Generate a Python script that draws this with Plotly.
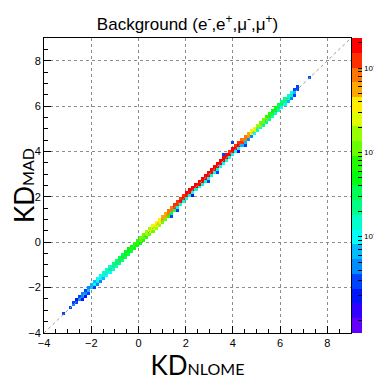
import colorsys
import numpy as np
import plotly.graph_objects as go

# histogram binning (ROOT-style TH2, 100 x 100 bins on [-4, 9])
kd_min, kd_max, n_bins = -4.0, 9.0, 100

# diagonal band, one entry per bin along KD_NLOME starting at bin 6
band_first_bin = 6
band_main = [3e-4, 0, 3e-4, 4.4e-4, 3e-4, 4.4e-4, 4.4e-4, 4.4e-4, 6.6e-4, 6.6e-4,
             1.0e-3, 1.0e-3, 1.0e-3, 1.5e-3, 1.5e-3, 2.2e-3, 2.2e-3, 3.3e-3, 3.3e-3, 4.9e-3,
             4.9e-3, 4.9e-3, 7.4e-3, 7.4e-3, 7.4e-3, 0.011, 0.011, 0.017, 0.025, 0.025,
             0.037, 0.037, 0.055, 0.055, 0.083, 0.083, 0.12, 0.12, 0.19,
             0.17, 0.19, 0.20, 0.19, 0.21, 0.20, 0.19, 0.20, 0.21, 0.20, 0.19, 0.20,
             0.19, 0.18, 0.19, 0.17, 0.18, 0.16,
             0.16, 0.12, 0.083, 0.055, 0.037, 0.025, 0.017, 0.017, 0.011, 0.011,
             7.4e-3, 7.4e-3, 4.9e-3, 3.3e-3, 3.3e-3, 2.2e-3, 1.5e-3, 1.5e-3, 6.6e-4, 3e-4,
             0, 0, 0, 3e-4]
band_upper = [0, 0, 0, 3e-4, 2e-4, 3e-4, 4.4e-4, 3e-4, 4.4e-4, 6.6e-4,
              6.6e-4, 1.0e-3, 1.0e-3, 1.5e-3, 1.5e-3, 1.5e-3, 2.2e-3, 2.2e-3, 3.3e-3, 3.3e-3,
              4.9e-3, 4.9e-3, 4.9e-3, 7.4e-3, 7.4e-3, 0.011, 0.011, 0.017, 0.017, 0.025,
              0.037, 0.037, 0.055, 0.055, 0.083, 0.083, 0.12, 0.12, 0.12,
              0.13, 0.16, 0.17, 0.16, 0.17, 0.18, 0.16, 0.17, 0.18, 0.17, 0.16, 0.17,
              0.16, 0.16, 0.17, 0.13, 0.16, 0.13,
              0.12, 0.083, 0.083, 0.055, 0.037, 0.025, 0.017, 0.011, 0.011, 7.4e-3,
              7.4e-3, 4.9e-3, 4.9e-3, 3.3e-3, 2.2e-3, 2.2e-3, 1.5e-3, 1.0e-3, 4.4e-4, 3e-4,
              0, 0, 0, 0]
band_lower = [0, 0, 0, 0, 0, 0, 2e-4, 2e-4, 3e-4, 0,
              3e-4, 4.4e-4, 4.4e-4, 6.6e-4, 1.0e-3, 1.0e-3, 1.5e-3, 1.5e-3, 2.2e-3, 2.2e-3,
              3.3e-3, 3.3e-3, 3.3e-3, 4.9e-3, 4.9e-3, 4.9e-3, 7.4e-3, 7.4e-3, 0.011, 0.011,
              0.017, 0.017, 0.011, 0.011, 7.4e-3, 3.3e-3, 2.2e-3, 1.5e-3, 1.5e-3,
              1.5e-3, 1.0e-3, 1.5e-3, 1.0e-3, 1.5e-3, 1.0e-3, 1.5e-3, 1.5e-3, 1.0e-3, 1.5e-3,
              1.0e-3, 1.5e-3, 1.0e-3, 1.0e-3, 1.5e-3, 1.0e-3, 1.0e-3, 1.0e-3,
              1.0e-3, 6.6e-4, 6.6e-4, 4.4e-4, 4.4e-4, 1.0e-3, 1.5e-3, 1.5e-3, 2.2e-3, 2.2e-3,
              2.2e-3, 1.5e-3, 1.5e-3, 1.5e-3, 1.0e-3, 1.0e-3, 6.6e-4, 4.4e-4, 3e-4, 0,
              0, 0, 0, 0]

# isolated low-count cells next to the band
stray_x = [1.40, 1.65, 2.30, 2.90, 3.30, 3.62, 4.05, 4.25, 4.50, 6.62]
stray_y = [1.10, 1.35, 2.05, 2.65, 3.05, 3.90, 4.35, 3.95, 4.20, 6.75]
stray_val = [3e-4, 3e-4, 2e-4, 3e-4, 3e-4, 3e-4, 3e-4, 2e-4, 3e-4, 3e-4]

# reference line y = x
diag_x = [-4, 9]
diag_y = [-4, 9]

# colour axis (log10 of bin content)
z_log_min, z_log_max = -4.143, -0.643
n_contours = 20
cb_labelled = [-3, -2, -1]

bin_w = (kd_max - kd_min) / n_bins
z = np.full((n_bins, n_bins), np.nan)
for offset, row in [(0, band_main), (1, band_upper), (-1, band_lower)]:
    for j, v in enumerate(row):
        ix = band_first_bin + j
        iy = ix + offset
        if v > 0 and 0 <= iy < n_bins:
            z[iy, ix] = v
for xs, ys, v in zip(stray_x, stray_y, stray_val):
    z[int((ys - kd_min) / bin_w), int((xs - kd_min) / bin_w)] = v
z_log = np.log10(z)

# ROOT "pretty" palette (violet -> red), 20 contour levels
colorscale = []
for k in range(n_contours):
    idx = int((k + 0.99) * 50 / n_contours)
    hue = 280 - (idx + 1) * 280 / 50
    r, g, b = colorsys.hls_to_rgb(hue / 360, 0.5, 1.0)
    col = f"rgb({int(r*255)},{int(g*255)},{int(b*255)})"
    colorscale.append([k / n_contours, col])
    colorscale.append([(k + 1) / n_contours, col])

cb_vals, cb_text = [], []
for e in range(-4, 0):
    for m in range(1, 10):
        v = np.log10(m * 10.0 ** e)
        if z_log_min <= v <= z_log_max:
            cb_vals.append(v)
            cb_text.append(f"10<sup>{e}</sup>" if (m == 1 and e in cb_labelled) else " ")

fig = go.Figure()
fig.add_trace(go.Scatter(x=diag_x, y=diag_y, mode="lines",
                         line=dict(color="#999999", width=1, dash="dot"),
                         showlegend=False, hoverinfo="skip"))
fig.add_trace(go.Heatmap(
    z=z_log, x0=kd_min + bin_w / 2, dx=bin_w, y0=kd_min + bin_w / 2, dy=bin_w,
    zmin=z_log_min, zmax=z_log_max, colorscale=colorscale, hoverongaps=False,
    colorbar=dict(x=1.003, xanchor="left", xpad=0, y=0.5, yanchor="middle", ypad=0,
                  len=1.0, thickness=10, outlinewidth=0, ticks="inside", ticklen=4,
                  tickcolor="black", tickvals=cb_vals, ticktext=cb_text,
                  tickfont=dict(family="Liberation Sans", size=8, color="black")),
))

axis_common = dict(
    range=[kd_min, kd_max], tick0=0, dtick=2, ticks="inside", ticklen=7,
    tickcolor="black", showline=True, linecolor="black", linewidth=1, mirror=True,
    showgrid=True, gridcolor="#8c8c8c", griddash="dot", gridwidth=1, zeroline=False,
    minor=dict(dtick=0.5, ticks="inside", ticklen=4, tickcolor="black", showgrid=False),
    tickfont=dict(family="Liberation Sans", size=11, color="black"),
    automargin=False,
)
fig.update_xaxes(**axis_common,
                 title=dict(text='KD<span style="font-size:16px">NLOME</span>',
                            font=dict(family="Lato", size=26, color="black"), standoff=0))
fig.update_yaxes(**axis_common,
                 title=dict(text='KD<span style="font-size:16px">MAD</span>',
                            font=dict(family="Lato", size=26, color="black"), standoff=9))

# the page body adds an 8 px offset, so the figure is 8 px smaller on the left/top
fig.update_layout(
    width=374, height=374,
    margin=dict(l=36, r=31, t=30, b=49, autoexpand=False),
    paper_bgcolor="white", plot_bgcolor="white",
    title=dict(text="Background (e<sup>-</sup>,e<sup>+</sup>,μ<sup>-</sup>,μ<sup>+</sup>)",
               x=0.48, xanchor="center", y=0.958, yanchor="middle",
               font=dict(family="Liberation Sans", size=17, color="black")),
    showlegend=False,
)

fig.write_html("out.html")
